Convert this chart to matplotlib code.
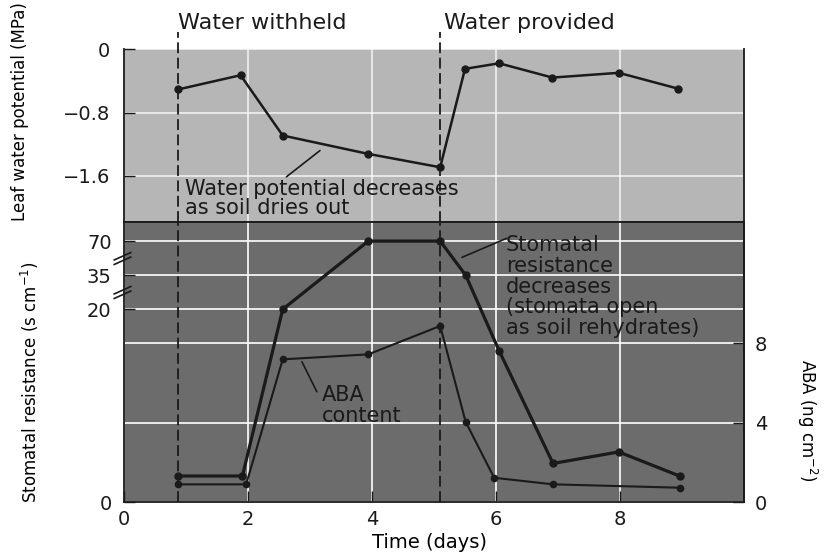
import numpy as np
import matplotlib
matplotlib.use('Agg')
import matplotlib.pyplot as plt
import matplotlib.transforms as mtransforms
from matplotlib.path import Path
from matplotlib.ticker import FuncFormatter

# leaf water potential (MPa)
days_wp = [0.87, 1.88, 2.56, 3.93, 5.1, 5.5, 6.05, 6.91, 7.98, 8.94]
wp = [-0.51, -0.33, -1.09, -1.32, -1.49, -0.25, -0.18, -0.36, -0.30, -0.50]

# stomatal resistance (s cm-1)
days_res = [0.87, 1.91, 2.56, 3.94, 5.1, 5.51, 6.05, 6.92, 7.98, 8.96]
res = [2.7, 2.7, 20, 70, 70, 35, 15.7, 4.0, 5.2, 2.7]

# ABA content (ng cm-2)
days_aba = [0.87, 1.97, 2.56, 3.94, 5.1, 5.51, 5.97, 6.92, 8.96]
aba = [0.89, 0.89, 7.18, 7.43, 8.86, 4.04, 1.22, 0.89, 0.72]

withheld_day = 0.87
provided_day = 5.1

day_ticks = [0, 2, 4, 6, 8]
wp_ticks = [0, -0.8, -1.6]
res_ticks = [0, 20, 35, 70]
aba_ticks = [0, 4, 8]

# resistance axis is broken: linear up to 20, then squeezed steps to 35 and 70
res_knots = [0, 20, 35, 70, 105]
pos_knots = [0, 9.70, 11.42, 13.13, 14.84]
aba_top = 14.09


def res_fwd(r):
    return np.interp(r, res_knots, pos_knots)


def res_inv(p):
    return np.interp(p, pos_knots, res_knots)


ink = '#1a1a1a'
plt.rcParams['font.family'] = 'DejaVu Sans'
plt.rcParams['text.color'] = ink

fig = plt.figure(figsize=(8.24, 5.57), dpi=100)
ax_wp = fig.add_axes([0.1505, 0.6014, 0.7524, 0.3106])
ax_res = fig.add_axes([0.1505, 0.0987, 0.7524, 0.5027])
ax_aba = ax_res.twinx()

ax_wp.set_facecolor('#b6b6b6')
ax_res.set_facecolor('#6c6c6c')

# top panel: water potential
ax_wp.plot(days_wp, wp, '-o', color=ink, lw=1.8, ms=5)
ax_wp.set_xlim(0, 10)
ax_wp.set_ylim(-2.18, 0)
ax_wp.set_xticks(day_ticks)
ax_wp.set_yticks(wp_ticks)
ax_wp.yaxis.set_major_formatter(FuncFormatter(lambda v, _: f'{v:g}'.replace('-', '\u2212')))
ax_wp.grid(True, color='white', lw=1.2, alpha=0.8)
ax_wp.set_axisbelow(True)
ax_wp.tick_params(axis='x', length=0, labelbottom=False)
ax_wp.tick_params(axis='y', direction='in', length=8, width=1, labelsize=14, pad=10, colors=ink)
ax_wp.spines['top'].set_visible(False)
for s in ('left', 'right', 'bottom'):
    ax_wp.spines[s].set_color(ink)
    ax_wp.spines[s].set_linewidth(1.3)
ax_wp.set_ylabel('Leaf water potential (MPa)', fontsize=12, va='center', ha='center')
ax_wp.yaxis.set_label_coords(-0.168, 0.636)

# bottom panel: stomatal resistance (left) and ABA (right)
ax_res.set_yscale('function', functions=(res_fwd, res_inv))
ax_res.set_xlim(0, 10)
ax_res.set_ylim(0, res_inv(aba_top))
ax_aba.set_ylim(0, aba_top)
ax_res.set_xticks(day_ticks)
ax_res.set_yticks(res_ticks)
ax_aba.set_yticks(aba_ticks)
ax_res.grid(True, color='white', lw=1.2)
ax_res.set_axisbelow(True)

# ABA gridlines sit with the rest of the grid, under both curves
trans = mtransforms.blended_transform_factory(ax_res.transAxes, ax_aba.transData)
for v in aba_ticks[1:]:
    ax_res.plot([0, 1], [v, v], transform=trans, color='white', lw=1.2, zorder=0.6)

ax_res.plot(days_res, res, '-o', color=ink, lw=2.3, ms=5)
ax_aba.plot(days_aba, aba, '-o', color=ink, lw=1.5, ms=4.5)

ax_res.tick_params(axis='x', direction='in', length=8, width=1, labelsize=14, pad=6, colors=ink)
ax_res.tick_params(axis='y', direction='in', length=8, width=1, labelsize=14, pad=9, colors=ink)
ax_aba.tick_params(axis='y', direction='in', length=8, width=1, labelsize=14, pad=8, colors=ink)
for s in ax_res.spines.values():
    s.set_color(ink)
    s.set_linewidth(1.3)
for s in ('left', 'top', 'bottom'):
    ax_aba.spines[s].set_visible(False)
ax_aba.spines['right'].set_color(ink)
ax_aba.spines['right'].set_linewidth(1.3)

ax_res.set_ylabel('Stomatal resistance (s cm$^{-1}$)', fontsize=12, va='center', ha='center')
ax_res.yaxis.set_label_coords(-0.152, 0.43)
ax_aba.set_ylabel('ABA (ng cm$^{-2}$)', fontsize=12, rotation=270, va='center', ha='center')
ax_aba.yaxis.set_label_coords(1.102, 0.293)
ax_res.set_xlabel('Time (days)', fontsize=14, va='center', ha='center')
ax_res.xaxis.set_label_coords(0.492, -0.146)

# axis break marks on the resistance scale
brk = Path([(-1, -0.7), (1, 0.2), (-1, -0.2), (1, 0.7)],
           [Path.MOVETO, Path.LINETO, Path.MOVETO, Path.LINETO])
btrans = mtransforms.blended_transform_factory(ax_res.transAxes, ax_res.transData)
ax_res.plot([-0.003, -0.003], [27.5, 52.5], transform=btrans, ls='none', marker=brk,
            ms=13, mfc='none', mec=ink, mew=1.2, clip_on=False, zorder=5)

# watering treatment boundaries
dash = (0, (6, 2.5))
for d in (withheld_day, provided_day):
    ax_wp.axvline(d, ymax=1.1, color=ink, lw=1.3, ls=dash, clip_on=False)
    ax_res.axvline(d, color=ink, lw=1.3, ls=dash)
xtrans = ax_wp.get_xaxis_transform()
ax_wp.text(withheld_day, 1.15, 'Water withheld', transform=xtrans, fontsize=16, va='center', ha='left')
ax_wp.text(provided_day + 0.06, 1.15, 'Water provided', transform=xtrans, fontsize=16, va='center', ha='left')

# callouts
arrow = dict(arrowstyle='-', color=ink, lw=1.2, shrinkA=0, shrinkB=0)
ax_wp.annotate('', xy=(3.16, -1.28), xytext=(2.62, -1.61), arrowprops=arrow)
ax_wp.text(0.98, -1.88, 'Water potential decreases\nas soil dries out', fontsize=15,
           va='center', ha='left', linespacing=0.95)

ax_aba.annotate('', xy=(5.45, 12.31), xytext=(6.17, 13.27), arrowprops=arrow)
ax_aba.text(6.16, 10.84, 'Stomatal\nresistance\ndecreases\n(stomata open\nas soil rehydrates)',
            fontsize=15, va='center', ha='left', linespacing=1.05)

ax_aba.annotate('', xy=(2.87, 7.06), xytext=(3.11, 5.55), arrowprops=arrow)
ax_aba.text(3.19, 4.84, 'ABA\ncontent', fontsize=15, va='center', ha='left', linespacing=1.05)

fig.savefig('out.png', dpi=100)
